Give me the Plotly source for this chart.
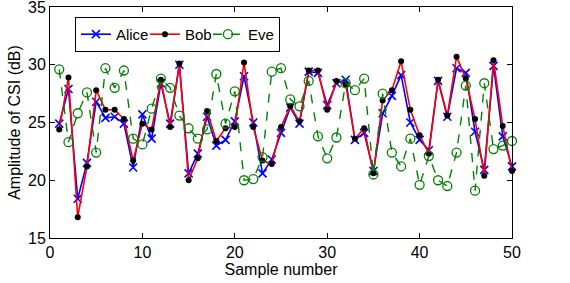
import plotly.graph_objects as go

samples = list(range(1, 51))
alice = [24.9, 27.9, 18.4, 21.5, 26.8, 25.4, 25.5, 24.9, 21.1, 25.7,
         23.6, 28.4, 24.9, 30.0, 20.6, 22.3, 25.5, 23.0, 23.5, 25.1,
         29.0, 25.0, 20.6, 21.8, 24.1, 26.3, 24.9, 29.4, 29.3, 26.5,
         28.4, 28.7, 23.5, 24.1, 20.8, 25.8, 27.3, 29.1, 25.0, 23.5,
         22.6, 28.6, 25.5, 29.7, 29.3, 24.2, 20.9, 29.9, 23.8, 21.2]
bob = [24.4, 28.9, 16.8, 21.2, 27.8, 26.1, 26.1, 25.3, 21.7, 24.9,
       24.4, 28.7, 24.6, 30.1, 20.0, 21.9, 26.0, 23.4, 24.5, 24.6,
       30.2, 24.6, 21.7, 21.4, 24.6, 26.4, 25.1, 29.5, 29.5, 26.1,
       28.6, 28.3, 23.6, 24.5, 20.6, 26.9, 27.8, 30.3, 26.1, 23.9,
       22.3, 28.7, 25.6, 30.7, 28.8, 25.3, 20.4, 30.4, 24.7, 20.8]
eve = [29.6, 23.3, 25.8, 27.6, 22.4, 29.7, 28.0, 29.5, 23.6, 23.1,
       26.2, 28.8, 28.0, 25.6, 24.5, 23.6, 24.4, 29.2, 24.9, 27.7,
       20.0, 20.1, 22.0, 29.4, 29.7, 27.0, 26.4, 28.6, 23.8, 21.9,
       23.7, 28.4, 27.8, 28.8, 20.5, 27.5, 22.4, 21.2, 23.6, 19.6,
       22.1, 20.0, 19.5, 22.4, 28.2, 19.1, 28.4, 22.7, 23.0, 23.4]

x_ticks = [0, 10, 20, 30, 40, 50]
y_ticks = [15, 20, 25, 30, 35]

FONT = "Liberation Sans, Arial, Helvetica, sans-serif"

fig = go.Figure()
fig.add_trace(go.Scatter(
    x=samples, y=alice, name="Alice", mode="lines+markers", cliponaxis=False,
    legendwidth=24,
    line=dict(color="#0000ff", width=1.6),
    marker=dict(symbol="x-thin", size=8, line=dict(color="#0000ff", width=1.6)),
))
fig.add_trace(go.Scatter(
    x=samples, y=bob, name="Bob", mode="lines+markers", cliponaxis=False,
    legendwidth=18,
    line=dict(color="#ff0000", width=1.6),
    marker=dict(symbol="circle", size=6, color="#000000"),
))
fig.add_trace(go.Scatter(
    x=samples, y=eve, name="Eve", mode="lines+markers", cliponaxis=False,
    legendwidth=26,
    line=dict(color="#008000", width=1.4, dash="dash"),
    marker=dict(symbol="circle-open", size=9, line=dict(color="#008000", width=1.3)),
))

axis_common = dict(
    showline=True, linecolor="#000000", linewidth=1, mirror="ticks",
    ticks="inside", ticklen=5, tickcolor="#000000", tickwidth=1,
    showgrid=False, zeroline=False, automargin=False,
    ticklabeloverflow="allow",
    tickfont=dict(family=FONT, size=16, color="#000000"),
)

fig.update_layout(
    width=570, height=283,
    margin=dict(l=50, r=58, t=7, b=45),
    paper_bgcolor="#ffffff", plot_bgcolor="#ffffff",
    font=dict(family=FONT, size=16, color="#000000"),
    xaxis=dict(range=[0, 50], tickvals=x_ticks,
               title=dict(text="Sample number", font=dict(size=16), standoff=0),
               **axis_common),
    yaxis=dict(range=[15, 35], tickvals=y_ticks,
               title=dict(text="Amplitude of CSI (dB)", font=dict(size=16), standoff=3),
               **axis_common),
    legend=dict(
        orientation="h", x=0.054, y=0.957, xanchor="left", yanchor="top",
        bgcolor="#ffffff", bordercolor="#000000", borderwidth=1,
        font=dict(family=FONT, size=15, color="#000000"),
        itemwidth=30, tracegroupgap=0,
    ),
    showlegend=True,
)

fig.write_html(
    "out.html",
    config={"displayModeBar": False},
    post_script="document.body.style.margin='0';document.body.style.overflow='hidden';",
)
